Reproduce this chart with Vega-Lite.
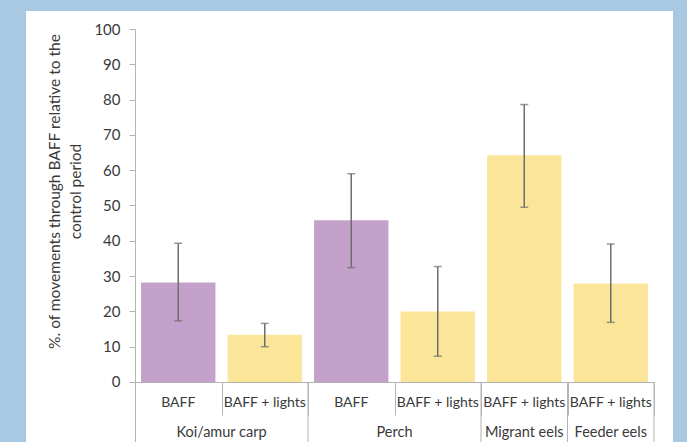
{
  "$schema": "https://vega.github.io/schema/vega-lite/v6.json",
  "width": 647,
  "height": 431,
  "autosize": {"type": "none"},
  "padding": {"left": 26, "top": 11, "right": 14, "bottom": 0},
  "background": "#A9C8E2",
  "config": {
    "view": {"fill": "white", "stroke": null},
    "font": "Lato",
    "text": {"font": "Lato", "color": "#3a3a3a"}
  },
  "data": {
    "values": [
      {"id": "Koi/amur carp - BAFF", "species": "Koi/amur carp", "treatment": "BAFF", "value": 28.2, "low": 17.3, "high": 39.3},
      {"id": "Koi/amur carp - BAFF + lights", "species": "Koi/amur carp", "treatment": "BAFF + lights", "value": 13.4, "low": 10.0, "high": 16.6},
      {"id": "Perch - BAFF", "species": "Perch", "treatment": "BAFF", "value": 45.8, "low": 32.4, "high": 59.0},
      {"id": "Perch - BAFF + lights", "species": "Perch", "treatment": "BAFF + lights", "value": 20.0, "low": 7.3, "high": 32.7},
      {"id": "Migrant eels - BAFF + lights", "species": "Migrant eels", "treatment": "BAFF + lights", "value": 64.2, "low": 49.5, "high": 78.6},
      {"id": "Feeder eels - BAFF + lights", "species": "Feeder eels", "treatment": "BAFF + lights", "value": 27.9, "low": 16.9, "high": 39.1}
    ]
  },
  "encoding": {
    "x": {
      "field": "id",
      "type": "nominal",
      "sort": null,
      "scale": {"type": "band", "paddingInner": 0, "paddingOuter": 0, "range": [109, 628]},
      "axis": {
        "orient": "bottom",
        "offset": -60,
        "labels": false,
        "title": null,
        "ticks": true,
        "tickBand": "extent",
        "tickSize": 33,
        "tickColor": "#b3b3b3",
        "domainColor": "#b3b3b3"
      }
    }
  },
  "layer": [
    {
      "mark": {"type": "bar", "width": {"band": 0.86}},
      "encoding": {
        "y": {
          "field": "value",
          "type": "quantitative",
          "scale": {"domain": [-17, 100], "range": [431, 18], "nice": false, "zero": false},
          "axis": {
            "values": [0, 10, 20, 30, 40, 50, 60, 70, 80, 90, 100],
            "offset": -109,
            "grid": false,
            "tickSize": 6,
            "tickColor": "#b3b3b3",
            "domainColor": "#b3b3b3",
            "labelFont": "Lato",
            "labelFontSize": 15,
            "labelColor": "#3a3a3a",
            "labelPadding": 9,
            "title": ["%. of movements through BAFF relative to the", "control period"],
            "titleFont": "Lato",
            "titleFontSize": 15.5,
            "titleFontWeight": "normal",
            "titleColor": "#3a3a3a",
            "titleAngle": -90,
            "titleAlign": "center",
            "titleBaseline": "alphabetic",
            "titleLineHeight": 21,
            "titleX": -76,
            "titleY": 180
          }
        },
        "color": {
          "field": "treatment",
          "type": "nominal",
          "scale": {"domain": ["BAFF", "BAFF + lights"], "range": ["#C4A1CA", "#FBE599"]},
          "legend": null
        }
      }
    },
    {
      "mark": {"type": "rule", "color": "#6e6e6e", "strokeWidth": 1.5},
      "encoding": {
        "y": {"field": "low", "type": "quantitative"},
        "y2": {"field": "high"}
      }
    },
    {
      "mark": {"type": "tick", "color": "#6e6e6e", "size": 8, "thickness": 1.5, "orient": "horizontal"},
      "encoding": {"y": {"field": "low", "type": "quantitative"}}
    },
    {
      "mark": {"type": "tick", "color": "#6e6e6e", "size": 8, "thickness": 1.5, "orient": "horizontal"},
      "encoding": {"y": {"field": "high", "type": "quantitative"}}
    },
    {
      "mark": {"type": "text", "fontSize": 14, "baseline": "alphabetic", "align": "center", "color": "#3a3a3a"},
      "encoding": {
        "y": {"datum": -7.1},
        "text": {"field": "treatment"}
      }
    },
    {
      "transform": [{"filter": "datum.treatment == 'BAFF'"}],
      "mark": {"type": "text", "fontSize": 14.5, "baseline": "alphabetic", "align": "center", "color": "#3a3a3a"},
      "encoding": {
        "x": {"field": "id", "type": "nominal", "bandPosition": 1},
        "y": {"datum": -15.6},
        "text": {"field": "species"}
      }
    },
    {
      "transform": [{"filter": "datum.species == 'Migrant eels' || datum.species == 'Feeder eels'"}],
      "mark": {"type": "text", "fontSize": 14.5, "baseline": "alphabetic", "align": "center", "color": "#3a3a3a"},
      "encoding": {
        "y": {"datum": -15.6},
        "text": {"field": "species"}
      }
    },
    {
      "transform": [{"filter": "datum.treatment == 'BAFF + lights'"}],
      "mark": {"type": "rule", "color": "#b3b3b3", "strokeWidth": 1},
      "encoding": {
        "x": {"field": "id", "type": "nominal", "bandPosition": 1},
        "y": {"datum": 0},
        "y2": {"datum": -17}
      }
    }
  ]
}
